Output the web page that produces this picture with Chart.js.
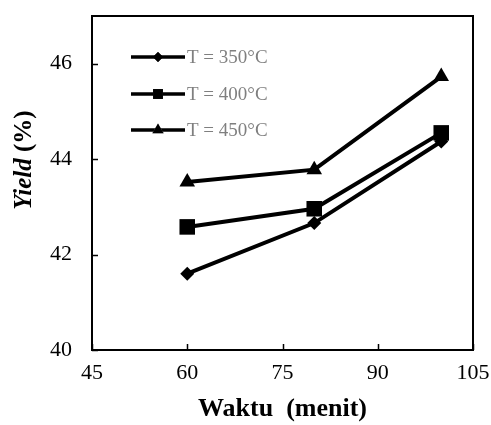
<!DOCTYPE html>
<html>
<head>
<meta charset="utf-8">
<script src="https://cdn.jsdelivr.net/npm/chart.js@4.4.0/dist/chart.umd.min.js"></script>
<style>
  html, body { margin: 0; padding: 0; background: #fff; }
  #wrap { width: 491px; height: 425px; }
</style>
</head>
<body>
<div id="wrap"><canvas id="yieldChart" width="491" height="425"></canvas></div>
<script>
// data
const waktu = [60, 80, 100];
const yield350 = [41.6, 42.66, 44.37];
const yield400 = [42.58, 42.96, 44.55];
const yield450 = [43.52, 43.78, 45.73];
const seriesLabels = ['T = 350°C', 'T = 400°C', 'T = 450°C'];
const xTicks = [45, 60, 75, 90, 105];
const yTicks = [40, 42, 44, 46];

const serif = "'Liberation Serif', 'Times New Roman', serif";

function toPoints(ys) {
    return waktu.map((x, i) => ({ x: x, y: ys[i] }));
}

function makeSet(label, ys, style, radius) {
    return {
        label: label,
        data: toPoints(ys),
        showLine: true,
        borderColor: '#000',
        backgroundColor: '#000',
        borderWidth: 4,
        pointStyle: style,
        pointRadius: radius,
        pointHoverRadius: radius,
        pointBorderWidth: 0,
        tension: 0
    };
}

// frame, inward ticks, legend and y title
const decorations = {
    id: 'decorations',
    afterDraw(chart) {
        const ctx = chart.ctx;
        const a = chart.chartArea;
        const xs = chart.scales.x, ys = chart.scales.y;
        ctx.save();
        ctx.strokeStyle = '#000';
        ctx.lineWidth = 2;
        ctx.strokeRect(a.left, a.top, a.right - a.left, a.bottom - a.top);

        ctx.lineWidth = 1.5;
        ctx.beginPath();
        xTicks.forEach(v => {
            const px = Math.round(xs.getPixelForValue(v)) + 0.5;
            ctx.moveTo(px, a.bottom);
            ctx.lineTo(px, a.bottom - 6);
        });
        yTicks.forEach(v => {
            const py = Math.round(ys.getPixelForValue(v)) + 0.5;
            ctx.moveTo(a.left, py);
            ctx.lineTo(a.left + 6, py);
        });
        ctx.stroke();

        // legend inside plot area
        const lx0 = a.left + 39, lx1 = a.left + 93;
        const rows = [57, 94, 130];
        chart.data.datasets.forEach((ds, i) => {
            const y = rows[i];
            ctx.strokeStyle = '#000';
            ctx.lineWidth = 3.5;
            ctx.beginPath();
            ctx.moveTo(lx0, y);
            ctx.lineTo(lx1, y);
            ctx.stroke();
            const r = ds.pointStyle === 'rect' ? 7 : (ds.pointStyle === 'triangle' ? 6.5 : 5);
            Chart.helpers.drawPoint(ctx, { pointStyle: ds.pointStyle, rotation: 0, radius: r, borderWidth: 0 }, (lx0 + lx1) / 2, y);
            ctx.fillStyle = '#000';
            ctx.fill();
            ctx.fillStyle = '#7f7f7f';
            ctx.font = '19px ' + serif;
            ctx.textAlign = 'left';
            ctx.textBaseline = 'middle';
            ctx.fillText(ds.label, lx1 + 2, y + 1);
        });

        // y axis title: italic "Yield" + " (%)"
        ctx.translate(25, 160);
        ctx.rotate(-Math.PI / 2);
        ctx.fillStyle = '#000';
        ctx.textBaseline = 'middle';
        const f1 = 'italic bold 25px ' + serif;
        const f2 = 'bold 25px ' + serif;
        ctx.font = f1;
        const w1 = ctx.measureText('Yield').width;
        ctx.font = f2;
        const w2 = ctx.measureText(' (%)').width;
        let sx = -(w1 + w2) / 2;
        ctx.textAlign = 'left';
        ctx.font = f1;
        ctx.fillText('Yield', sx, 0);
        ctx.font = f2;
        ctx.fillText(' (%)', sx + w1, 0);
        ctx.restore();
    }
};

const ctx = document.getElementById('yieldChart').getContext('2d');
new Chart(ctx, {
    type: 'scatter',
    data: {
        datasets: [
            makeSet(seriesLabels[0], yield350, 'rectRot', 7),
            makeSet(seriesLabels[1], yield400, 'rect', 11),
            makeSet(seriesLabels[2], yield450, 'triangle', 9)
        ]
    },
    options: {
        responsive: false,
        animation: false,
        layout: { padding: { top: 16, right: 18, left: 0, bottom: 0 } },
        plugins: {
            legend: { display: false },
            tooltip: { enabled: false }
        },
        scales: {
            x: {
                type: 'linear',
                min: 45,
                max: 105,
                afterBuildTicks: s => { s.ticks = xTicks.map(v => ({ value: v })); },
                afterFit: s => { s.height = 75; s.paddingLeft = 0; s.paddingRight = 0; },
                grid: { display: false, drawTicks: false },
                border: { display: false },
                ticks: {
                    color: '#000',
                    padding: 10,
                    font: { family: serif, size: 22 }
                },
                title: {
                    display: true,
                    text: 'Waktu  (menit)',
                    color: '#000',
                    font: { family: serif, size: 26, weight: 'bold' },
                    padding: { top: 0, bottom: 0 }
                }
            },
            y: {
                min: 40,
                max: 47,
                afterBuildTicks: s => { s.ticks = yTicks.map(v => ({ value: v })); },
                afterFit: s => { s.width = 92; s.paddingTop = 0; s.paddingBottom = 0; },
                grid: { display: false, drawTicks: false },
                border: { display: false },
                ticks: {
                    color: '#000',
                    padding: 20,
                    font: { family: serif, size: 22 }
                }
            }
        }
    },
    plugins: [decorations]
});
</script>
</body>
</html>
